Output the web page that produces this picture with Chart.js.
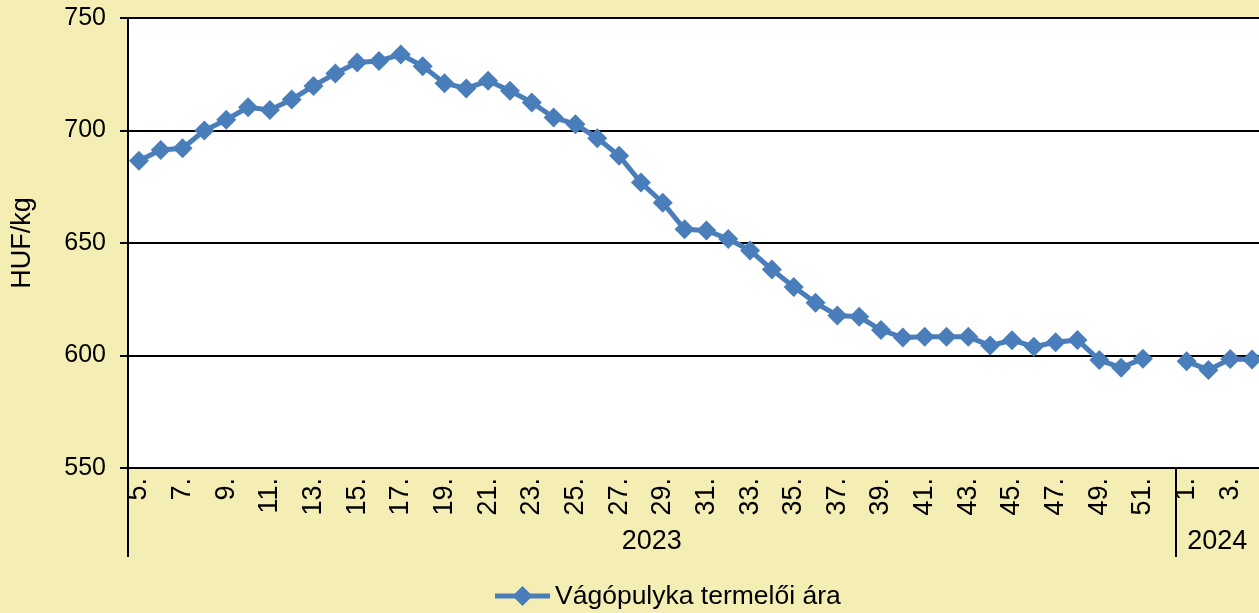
<!DOCTYPE html>
<html>
<head>
<meta charset="utf-8">
<script src="https://cdn.jsdelivr.net/npm/chart.js@4"></script>
<style>
  html, body { margin: 0; padding: 0; background: #f5eeb4; overflow: hidden; }
  #wrap { width: 1259px; height: 613px; position: relative; overflow: hidden; }
</style>
</head>
<body>
<!-- plot runs a few px past the right edge, as in the source -->
<div id="wrap"><canvas id="priceChart" width="1263" height="613"></canvas></div>
<script>
// week labels (2023 weeks 5-52, then 2024 weeks 1-4)
const weekLabels = [
  "5.","6.","7.","8.","9.","10.","11.","12.","13.","14.","15.","16.",
  "17.","18.","19.","20.","21.","22.","23.","24.","25.","26.","27.","28.",
  "29.","30.","31.","32.","33.","34.","35.","36.","37.","38.","39.","40.",
  "41.","42.","43.","44.","45.","46.","47.","48.","49.","50.","51.","52.",
  "1.","2.","3.","4."
];
const years = ["2023", "2024"];
const weeksPerYear = [48, 4];

// HUF/kg (week 52 missing)
const prices = [
  686.6, 691.3, 692.1, 700.0, 704.8, 710.3, 709.1, 713.8, 719.8, 725.3, 730.2, 730.9,
  733.8, 728.6, 721.0, 718.7, 722.1, 717.7, 712.5, 705.8, 702.8, 696.6, 688.8, 676.9,
  667.9, 656.1, 655.6, 651.8, 646.7, 638.2, 630.5, 623.4, 617.8, 617.2, 611.3, 608.0,
  608.3, 608.3, 608.3, 604.4, 606.8, 603.9, 605.9, 606.9, 598.0, 594.6, 598.6, null,
  597.4, 593.6, 598.4, 598.2
];
const seriesName = "Vágópulyka termelői ára";
const yTicks = { min: 550, max: 750, step: 50 };

const BG = "#f5eeb4";
const BLUE = "#4a7ebb";
const FONT = "'Liberation Sans', Arial, sans-serif";
const VISIBLE_W = 1259;

Chart.defaults.font.family = FONT;
Chart.defaults.color = "#000";

// backgrounds + year groups + legend
const decor = {
  id: "decor",
  beforeDraw(chart) {
    const { ctx, chartArea: a } = chart;
    ctx.save();
    ctx.fillStyle = BG;
    ctx.fillRect(0, 0, chart.width, chart.height);
    ctx.fillStyle = "#fff";
    ctx.fillRect(a.left, a.top, a.right - a.left, a.bottom - a.top);
    ctx.restore();
  },
  afterDraw(chart) {
    const { ctx, chartArea: a } = chart;
    const x = chart.scales.x;
    ctx.save();
    ctx.strokeStyle = "#000";
    ctx.lineWidth = 2;
    ctx.fillStyle = "#000";
    ctx.font = "27px " + FONT;
    ctx.textAlign = "center";
    ctx.textBaseline = "middle";
    let start = 0;
    years.forEach((yr, i) => {
      const end = start + weeksPerYear[i];
      const x0 = start === 0 ? x.left : (x.getPixelForValue(start - 1) + x.getPixelForValue(start)) / 2;
      const x1 = end >= weekLabels.length ? Math.min(x.right, VISIBLE_W) : (x.getPixelForValue(end - 1) + x.getPixelForValue(end)) / 2;
      ctx.beginPath();
      ctx.moveTo(Math.round(x0), a.bottom);
      ctx.lineTo(Math.round(x0), 557);
      ctx.stroke();
      ctx.fillText(yr, (x0 + x1) / 2, 542);
      start = end;
    });

    // legend
    const lx = 495, ly = 596;
    ctx.strokeStyle = BLUE;
    ctx.lineWidth = 5;
    ctx.beginPath();
    ctx.moveTo(lx, ly);
    ctx.lineTo(lx + 55, ly);
    ctx.stroke();
    ctx.fillStyle = BLUE;
    ctx.beginPath();
    ctx.moveTo(lx + 27.5, ly - 10);
    ctx.lineTo(lx + 37.5, ly);
    ctx.lineTo(lx + 27.5, ly + 10);
    ctx.lineTo(lx + 17.5, ly);
    ctx.closePath();
    ctx.fill();
    ctx.fillStyle = "#000";
    ctx.textAlign = "left";
    ctx.font = "26.5px " + FONT;
    ctx.fillText(seriesName, lx + 60, ly + 1);
    ctx.restore();
  }
};

new Chart(document.getElementById("priceChart"), {
  type: "line",
  data: {
    labels: weekLabels,
    datasets: [{
      label: seriesName,
      data: prices,
      borderColor: BLUE,
      backgroundColor: BLUE,
      borderWidth: 5,
      pointStyle: "rectRot",
      pointRadius: 10,
      pointBorderWidth: 0,
      pointBackgroundColor: BLUE,
      tension: 0,
      spanGaps: false
    }]
  },
  options: {
    responsive: false,
    animation: false,
    layout: { autoPadding: false, padding: { top: 18, left: 0, right: 0, bottom: 0 } },
    plugins: {
      legend: { display: false },
      tooltip: { enabled: false }
    },
    scales: {
      x: {
        offset: true,
        grid: { display: false, drawTicks: false },
        border: { display: true, color: "#000", width: 2 },
        ticks: {
          autoSkip: false,
          minRotation: 90,
          maxRotation: 90,
          padding: 10,
          font: { size: 27 },
          color: "#000",
          callback: function(v, i) { return i % 2 === 0 ? this.getLabelForValue(v) : ""; }
        },
        afterFit: s => { s.height = 145; s.paddingLeft = 0; s.paddingRight = 0; }
      },
      y: {
        min: yTicks.min,
        max: yTicks.max,
        grid: { color: "#000", lineWidth: 2, tickLength: 8, tickColor: "#000" },
        border: { display: true, color: "#000", width: 2 },
        ticks: { stepSize: yTicks.step, padding: 14, font: { size: 25 }, color: "#000" },
        title: { display: true, text: "HUF/kg", font: { size: 27 }, color: "#000", padding: { top: 6 } },
        afterFit: s => { s.width = 128; s.paddingTop = 0; s.paddingBottom = 0; }
      }
    }
  },
  plugins: [decor]
});
</script>
</body>
</html>
